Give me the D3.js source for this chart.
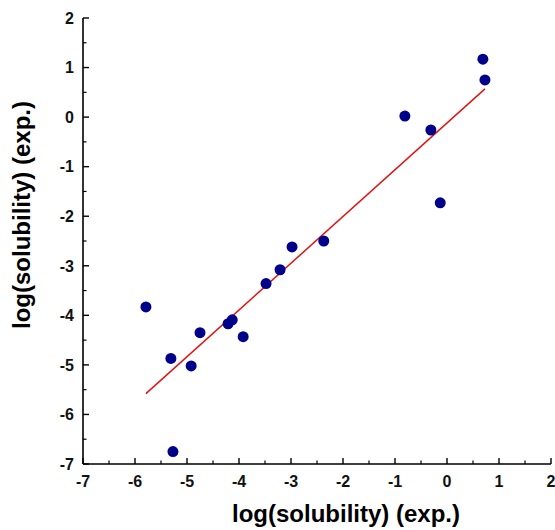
<!DOCTYPE html>
<html>
<head>
<meta charset="utf-8">
<script src="https://cdn.jsdelivr.net/npm/d3@7"></script>
<style>
  html, body { margin: 0; padding: 0; background: #fff; }
  svg { display: block; }
</style>
</head>
<body>
<svg id="chart" width="555" height="530"></svg>
<script>
// Data
const xValues = [-5.79, -5.31, -5.27, -4.92, -4.75, -4.21, -4.13, -3.92, -3.48, -3.21, -2.98, -2.37, -0.81, -0.31, -0.13, 0.69, 0.73];
const yValues = [-3.83, -4.87, -6.75, -5.02, -4.35, -4.17, -4.09, -4.43, -3.36, -3.08, -2.62, -2.50, 0.02, -0.26, -1.73, 1.17, 0.75];
const fitX = [-5.79, 0.73];
const fitY = [-5.58, 0.57];
const xTicks = [-7, -6, -5, -4, -3, -2, -1, 0, 1, 2];
const yTicks = [2, 1, 0, -1, -2, -3, -4, -5, -6, -7];
const xTitle = "log(solubility) (exp.)";
const yTitle = "log(solubility) (exp.)";

const svg = d3.select("#chart");
const x = d3.scaleLinear().domain([-7, 2]).range([83, 551]);
const y = d3.scaleLinear().domain([-7, 2]).range([464, 18]);

const tickFont = "'Liberation Sans Narrow', 'Arial Narrow', 'Liberation Sans', Arial, sans-serif";
const titleFont = "'Liberation Sans', Arial, Helvetica, sans-serif";

// minor ticks at half units
const xMinor = d3.range(-6.5, 2, 1);
const yMinor = d3.range(-6.5, 2, 1);

// X axis
const gx = svg.append("g").attr("transform", `translate(0,${y(-7)})`);
gx.append("line").attr("x1", x(-7)).attr("x2", x(2)).attr("stroke", "#000").attr("stroke-width", 1.6);
gx.selectAll("line.maj").data(xTicks).enter().append("line").attr("class", "maj")
  .attr("x1", d => x(d)).attr("x2", d => x(d)).attr("y1", 0).attr("y2", -6)
  .attr("stroke", "#000").attr("stroke-width", 1.4);
gx.selectAll("line.min").data(xMinor).enter().append("line").attr("class", "min")
  .attr("x1", d => x(d)).attr("x2", d => x(d)).attr("y1", 0).attr("y2", -3.5)
  .attr("stroke", "#000").attr("stroke-width", 1.2);
gx.selectAll("text").data(xTicks).enter().append("text")
  .attr("x", d => x(d)).attr("y", 23)
  .attr("text-anchor", "middle")
  .attr("font-family", tickFont).attr("font-weight", "bold").attr("font-size", 16)
  .attr("fill", "#111")
  .text(d => d);

// Y axis
const gy = svg.append("g").attr("transform", `translate(${x(-7)},0)`);
gy.append("line").attr("y1", y(-7)).attr("y2", y(2)).attr("stroke", "#000").attr("stroke-width", 1.6);
gy.selectAll("line.maj").data(yTicks).enter().append("line").attr("class", "maj")
  .attr("y1", d => y(d)).attr("y2", d => y(d)).attr("x1", 0).attr("x2", 6)
  .attr("stroke", "#000").attr("stroke-width", 1.4);
gy.selectAll("line.min").data(yMinor).enter().append("line").attr("class", "min")
  .attr("y1", d => y(d)).attr("y2", d => y(d)).attr("x1", 0).attr("x2", 3.5)
  .attr("stroke", "#000").attr("stroke-width", 1.2);
gy.selectAll("text").data(yTicks).enter().append("text")
  .attr("x", -9).attr("y", d => y(d)).attr("dy", "0.36em")
  .attr("text-anchor", "end")
  .attr("font-family", tickFont).attr("font-weight", "bold").attr("font-size", 16)
  .attr("fill", "#111")
  .text(d => d);

// Fit line
const line = d3.line().x(d => x(d[0])).y(d => y(d[1]));
svg.append("path")
  .datum(fitX.map((v, i) => [v, fitY[i]]))
  .attr("d", line)
  .attr("fill", "none").attr("stroke", "#e01515").attr("stroke-width", 1.5);

// Points
svg.append("g").selectAll("circle")
  .data(xValues.map((v, i) => [v, yValues[i]]))
  .enter().append("circle")
  .attr("cx", d => x(d[0])).attr("cy", d => y(d[1]))
  .attr("r", 5.5).attr("fill", "#00008b");

// Titles
svg.append("text")
  .attr("x", 346).attr("y", 522)
  .attr("text-anchor", "middle")
  .attr("font-family", titleFont).attr("font-weight", "bold").attr("font-size", 24)
  .attr("fill", "#000")
  .text(xTitle);

svg.append("text")
  .attr("transform", `translate(30,215) rotate(-90)`)
  .attr("text-anchor", "middle")
  .attr("font-family", titleFont).attr("font-weight", "bold").attr("font-size", 24)
  .attr("fill", "#000")
  .text(yTitle);
</script>
</body>
</html>
